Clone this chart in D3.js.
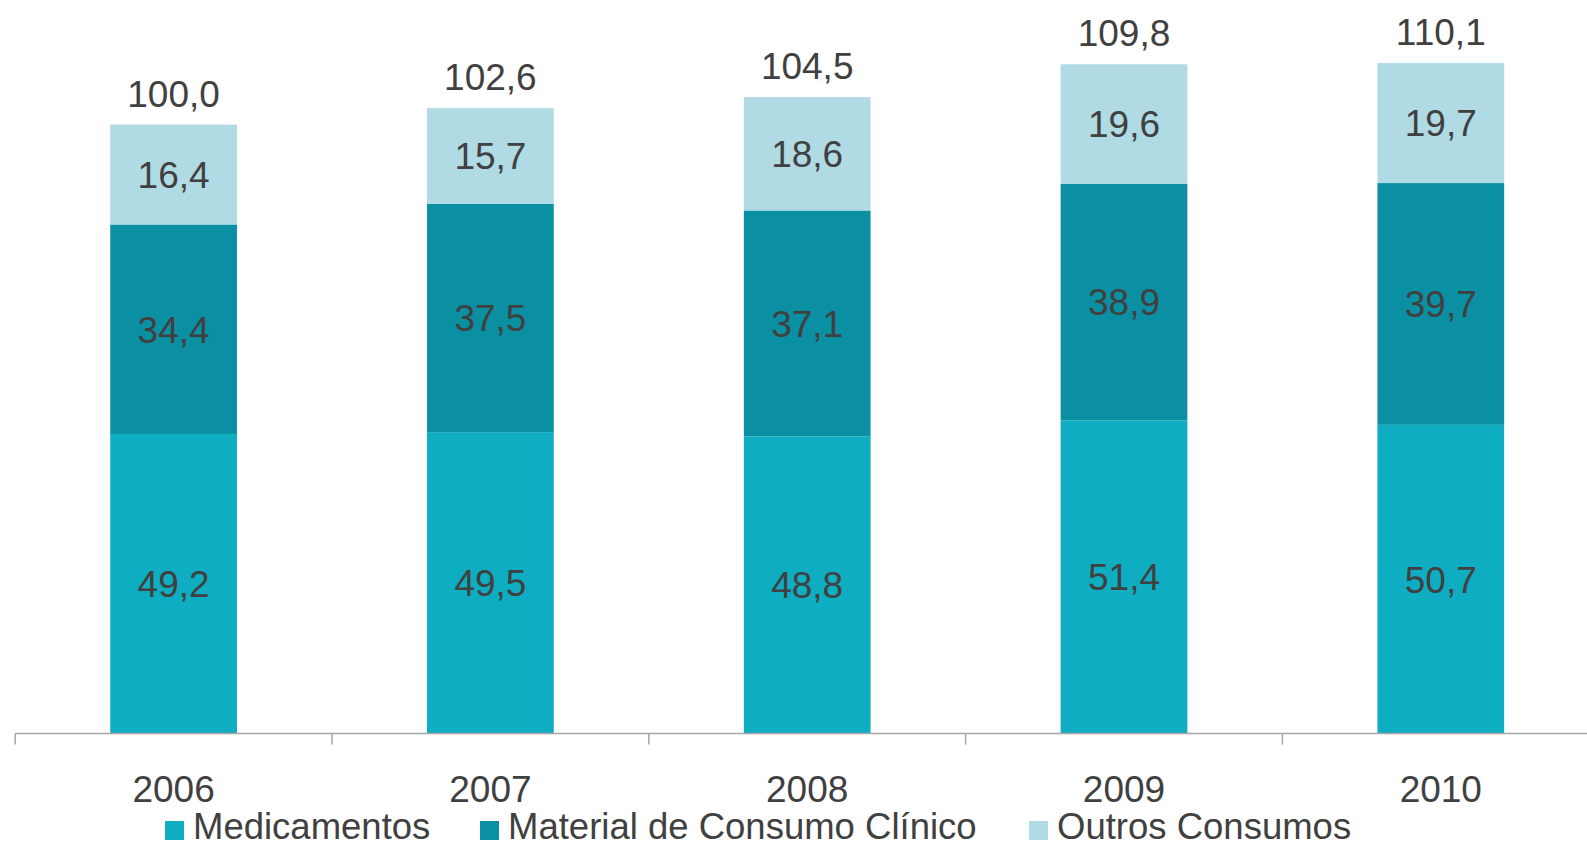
<!DOCTYPE html>
<html>
<head>
<meta charset="utf-8">
<script src="https://cdn.jsdelivr.net/npm/d3@7"></script>
<style>
html,body{margin:0;padding:0;background:#fff;}
svg{display:block;font-family:"Liberation Sans",Arial,sans-serif;}
</style>
</head>
<body>
<svg id="chart" width="1587" height="847"></svg>
<script>
const years = ["2006","2007","2008","2009","2010"];
const seriesNames = ["Medicamentos","Material de Consumo Clínico","Outros Consumos"];
const medicamentos = [49.2, 49.5, 48.8, 51.4, 50.7];
const materialClinico = [34.4, 37.5, 37.1, 38.9, 39.7];
const outrosConsumos = [16.4, 15.7, 18.6, 19.6, 19.7];
const totals = [100.0, 102.6, 104.5, 109.8, 110.1];
const colors = ["#0EADC1","#0A90A2","#B0DBE4"];

const fmt = v => v.toFixed(1).replace(".", ",");

const svg = d3.select("#chart");
const baseY = 733.6;
const x = d3.scaleBand().domain(years).range([15.2, 15.2 + 316.8*5]).padding(0);
const y = d3.scaleLinear().domain([0, 120]).range([baseY, baseY - 120*6.09]);
const barW = x.bandwidth() * 0.4;

const table = years.map((yr, i) => ({
  year: yr,
  s0: medicamentos[i], s1: materialClinico[i], s2: outrosConsumos[i], total: totals[i]
}));
const stack = d3.stack().keys(["s0","s1","s2"]);
const stacked = stack(table);

const textColor = "#404040";
const fs = 37;

stacked.forEach((layer, li) => {
  const g = svg.append("g");
  g.selectAll("rect").data(layer).join("rect")
    .attr("x", d => x(d.data.year) + x.bandwidth()/2 - barW/2)
    .attr("width", barW)
    .attr("y", d => y(d[1]))
    .attr("height", d => y(d[0]) - y(d[1]))
    .attr("fill", colors[li]);
  g.selectAll("text").data(layer).join("text")
    .attr("x", d => x(d.data.year) + x.bandwidth()/2)
    .attr("y", d => (y(d[0]) + y(d[1]))/2)
    .attr("dy", "0.36em")
    .attr("text-anchor", "middle")
    .attr("font-size", fs)
    .attr("fill", textColor)
    .text(d => fmt(d[1]-d[0]));
});

// totals
svg.append("g").selectAll("text").data(stacked[2]).join("text")
  .attr("x", d => x(d.data.year) + x.bandwidth()/2)
  .attr("y", d => y(d[1]) - 18)
  .attr("text-anchor", "middle")
  .attr("font-size", fs)
  .attr("fill", textColor)
  .text(d => fmt(d.data.total));

// axis
const axisG = svg.append("g").attr("transform", `translate(0,${baseY})`);
axisG.append("line")
  .attr("x1", x.range()[0]).attr("x2", x.range()[1])
  .attr("y1", 0).attr("y2", 0)
  .attr("stroke", "#A6A6A6").attr("stroke-width", 1.5);
const boundaries = years.map(yr => x(yr)).concat([x.range()[1]]);
axisG.selectAll("line.tick").data(boundaries).join("line")
  .attr("class","tick")
  .attr("x1", d => d).attr("x2", d => d)
  .attr("y1", 0).attr("y2", 11)
  .attr("stroke", "#A6A6A6").attr("stroke-width", 1.5);
axisG.selectAll("text").data(years).join("text")
  .attr("x", d => x(d) + x.bandwidth()/2)
  .attr("y", 802 - baseY)
  .attr("text-anchor", "middle")
  .attr("font-size", fs)
  .attr("fill", textColor)
  .text(d => d);

// legend
const legendX = [165, 480, 1029];
const lg = svg.append("g");
seriesNames.forEach((name, i) => {
  lg.append("rect")
    .attr("x", legendX[i]).attr("y", 821)
    .attr("width", 19).attr("height", 19)
    .attr("fill", colors[i]);
  lg.append("text")
    .attr("x", legendX[i] + 28).attr("y", 839)
    .attr("font-size", 36.5)
    .attr("fill", textColor)
    .text(name);
});
</script>
</body>
</html>
